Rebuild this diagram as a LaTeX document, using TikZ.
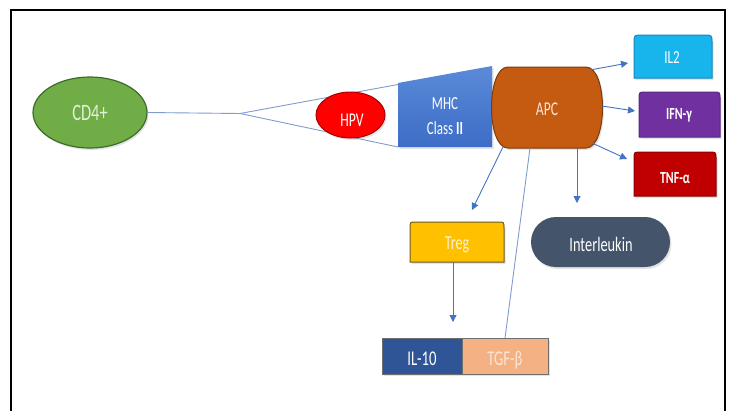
\documentclass[tikz,border=0pt]{standalone}
\usepackage{fontspec}
\setmainfont{Carlito}[FakeStretch=0.7]
\usetikzlibrary{arrows.meta,shapes.geometric,shadows,calc,backgrounds}
\definecolor{cdg}{HTML}{70AD47}
\definecolor{cdb}{HTML}{3D6B2A}
\definecolor{cdt}{HTML}{E2F0D9}
\definecolor{hpvred}{HTML}{FF0000}
\definecolor{hpvb}{HTML}{A80000}
\definecolor{mhctop}{HTML}{5A8AD8}
\definecolor{mhcbot}{HTML}{3D6DC6}
\definecolor{apcf}{HTML}{C55A11}
\definecolor{apcb}{HTML}{7A3A10}
\definecolor{apct}{HTML}{FBE5D6}
\definecolor{il2f}{HTML}{18B4EC}
\definecolor{il2b}{HTML}{1288BE}
\definecolor{ifnf}{HTML}{7030A0}
\definecolor{ifnb}{HTML}{5A2681}
\definecolor{tnff}{HTML}{C00000}
\definecolor{tnfb}{HTML}{8A0000}
\definecolor{tregf}{HTML}{FFC000}
\definecolor{tregb}{HTML}{6E5A1E}
\definecolor{tregt}{HTML}{FFF2CC}
\definecolor{intlf}{HTML}{44546A}
\definecolor{il10f}{HTML}{2F5597}
\definecolor{tgff}{HTML}{F4B183}
\definecolor{pairb}{HTML}{6F6F6F}
\definecolor{linec}{HTML}{7F9BD0}
\definecolor{arrc}{HTML}{4472C4}
\newcommand{\fsz}[1]{\fontsize{#1}{#1}\selectfont}
\newcommand{\toprnd}[4]{%
  \filldraw[fill=#2,draw=#3,line width=1pt,shd]
    (#1.south west) -- ($(#1.north west)+(0,#4)$)
    .. controls (#1.north west) .. ($(#1.north west)+(#4,0)$)
    -- ($(#1.north east)+(-#4,0)$)
    .. controls (#1.north east) .. ($(#1.north east)+(0,#4)$)
    -- (#1.south east) -- cycle;}
\begin{document}
\begin{tikzpicture}[x=1pt,y=-1pt,
  conn/.style={draw=linec, line width=0.9pt},
  arr/.style={draw=arrc, line width=0.9pt, -{Triangle[length=7pt,width=7pt]}},
  lbl/.style={text=white, inner sep=0pt, anchor=base},
  shp/.style={inner sep=0pt, outer sep=0pt},
  shd/.style={drop shadow={opacity=0.22, shadow xshift=1.5pt, shadow yshift=-2pt}}]
\useasboundingbox (0,0) rectangle (733,410);
% frame
\draw[line width=1.5pt] (11,411) -- (11,10) -- (725,10) -- (725,411);

% CD4+
\node[shp, ellipse, draw=cdb, fill=cdg, line width=1.2pt, minimum width=114pt, minimum height=71pt, shd] (cd4) at (90,112.5) {};

% lines to MHC
\coordinate (j) at (240,113.5);
\coordinate (mhcA) at (398,84.5);
\coordinate (mhcB) at (398,147);
\draw[conn] (cd4.east) -- (j) -- (mhcA);
\draw[conn] (j) -- (mhcB);

% HPV
\node[shp, ellipse, draw=hpvb, fill=hpvred, line width=1pt, minimum width=69pt, minimum height=46pt, shd] (hpv) at (350.5,115) {};

% MHC Class II
\shade[top color=mhctop, bottom color=mhcbot, shd] (mhcB) -- (398,83) -- (492,66) -- (492,147) -- cycle;

% APC
\filldraw[fill=apcf, draw=apcb, line width=1pt, shd] (508,67) -- (586,67) .. controls (608,67) and (608,148) .. (586,148) -- (508,148) .. controls (486,148) and (486,67) .. (508,67) -- cycle;
\node[shp, minimum width=110pt, minimum height=81pt] (apc) at (547,107.5) {};

% boxes
\node[shp, minimum width=78pt, minimum height=43pt] (il2) at (673,56.5) {};
\node[shp, minimum width=81pt, minimum height=45pt] (ifn) at (679.5,114.5) {};
\node[shp, minimum width=82pt, minimum height=44pt] (tnf) at (675,174) {};
\node[shp, minimum width=94pt, minimum height=40pt] (treg) at (457,242) {};
\begin{scope}[on background layer]
\toprnd{il2}{il2f}{il2b}{8}
\toprnd{ifn}{ifnf}{ifnb}{7}
\toprnd{tnf}{tnff}{tnfb}{7}
\toprnd{treg}{tregf}{tregb}{6}
\end{scope}

\node[shp, fill=intlf, rounded corners=25pt, minimum width=139pt, minimum height=50pt, shd] (intl) at (600.5,242) {};

% IL-10 / TGF-beta
\node[shp, fill=il10f, draw=pairb, line width=0.8pt, minimum width=80pt, minimum height=36pt, shd] (il10) at (422,356) {};
\node[shp, fill=tgff, draw=pairb, line width=0.8pt, minimum width=86pt, minimum height=36pt, shd] (tgf) at (505,356) {};

% connectors from APC
\draw[arr] ($(apc.north east)+(-12,3)$) -- ($(il2.west)+(-6,6.5)$);
\draw[arr] ($(apc.east)+(0,-1.5)$) -- ($(ifn.west)+(-4,-3.5)$);
\draw[arr] ($(apc.south east)+(-10,-5)$) -- ($(tnf.north west)+(-7,7)$);
\draw[arr] ($(apc.south)+(30,0)$) -- ($(intl.north)+(-23.5,-14)$);
\draw[arr] ($(apc.south west)+(11,-1)$) -- ($(treg.north)+(15,-12)$);
\draw[conn] ($(apc.south west)+(38,0)$) -- (tgf.north);
\draw[arr] ($(treg.south)+(-4,0)$) -- ($(il10.north east)+(-9,-16)$);

% labels
\node[lbl, font=\fsz{23.5}, text=cdt] (cd4t) at (90,120.4) {CD4+};
\node[lbl, font=\fsz{19.5}] (hpvt) at (352,126.2) {HPV};
\node[lbl, font=\fsz{18.5}] (mhct) at (445,109.8) {MHC};
\node[lbl, font=\fsz{18.5}] (mhct2) at (445,134.3) {Class \textbf{II}};
\node[lbl, font=\fsz{19.5}, text=apct] (apct) at (547,115.2) {APC};
\node[lbl, font=\fsz{18.5}] (il2t) at (672,63.3) {IL2};
\node[lbl, font=\bfseries\fsz{17}] (ifnt) at (679,119.9) {IFN-γ};
\node[lbl, font=\bfseries\fsz{17}] (tnft) at (675,183.4) {TNF-α};
\node[lbl, font=\fsz{20}, text=tregt] (tregt) at (457,249.8) {Treg};
\node[lbl, font=\fsz{20.5}] (intlt) at (601,251) {Interleukin};
\node[lbl, font=\fsz{21}] (il10t) at (422,365.6) {IL-10};
\node[lbl, font=\fsz{21}, text=apct] (tgft) at (505,365.6) {TGF-β};
\end{tikzpicture}
\end{document}
